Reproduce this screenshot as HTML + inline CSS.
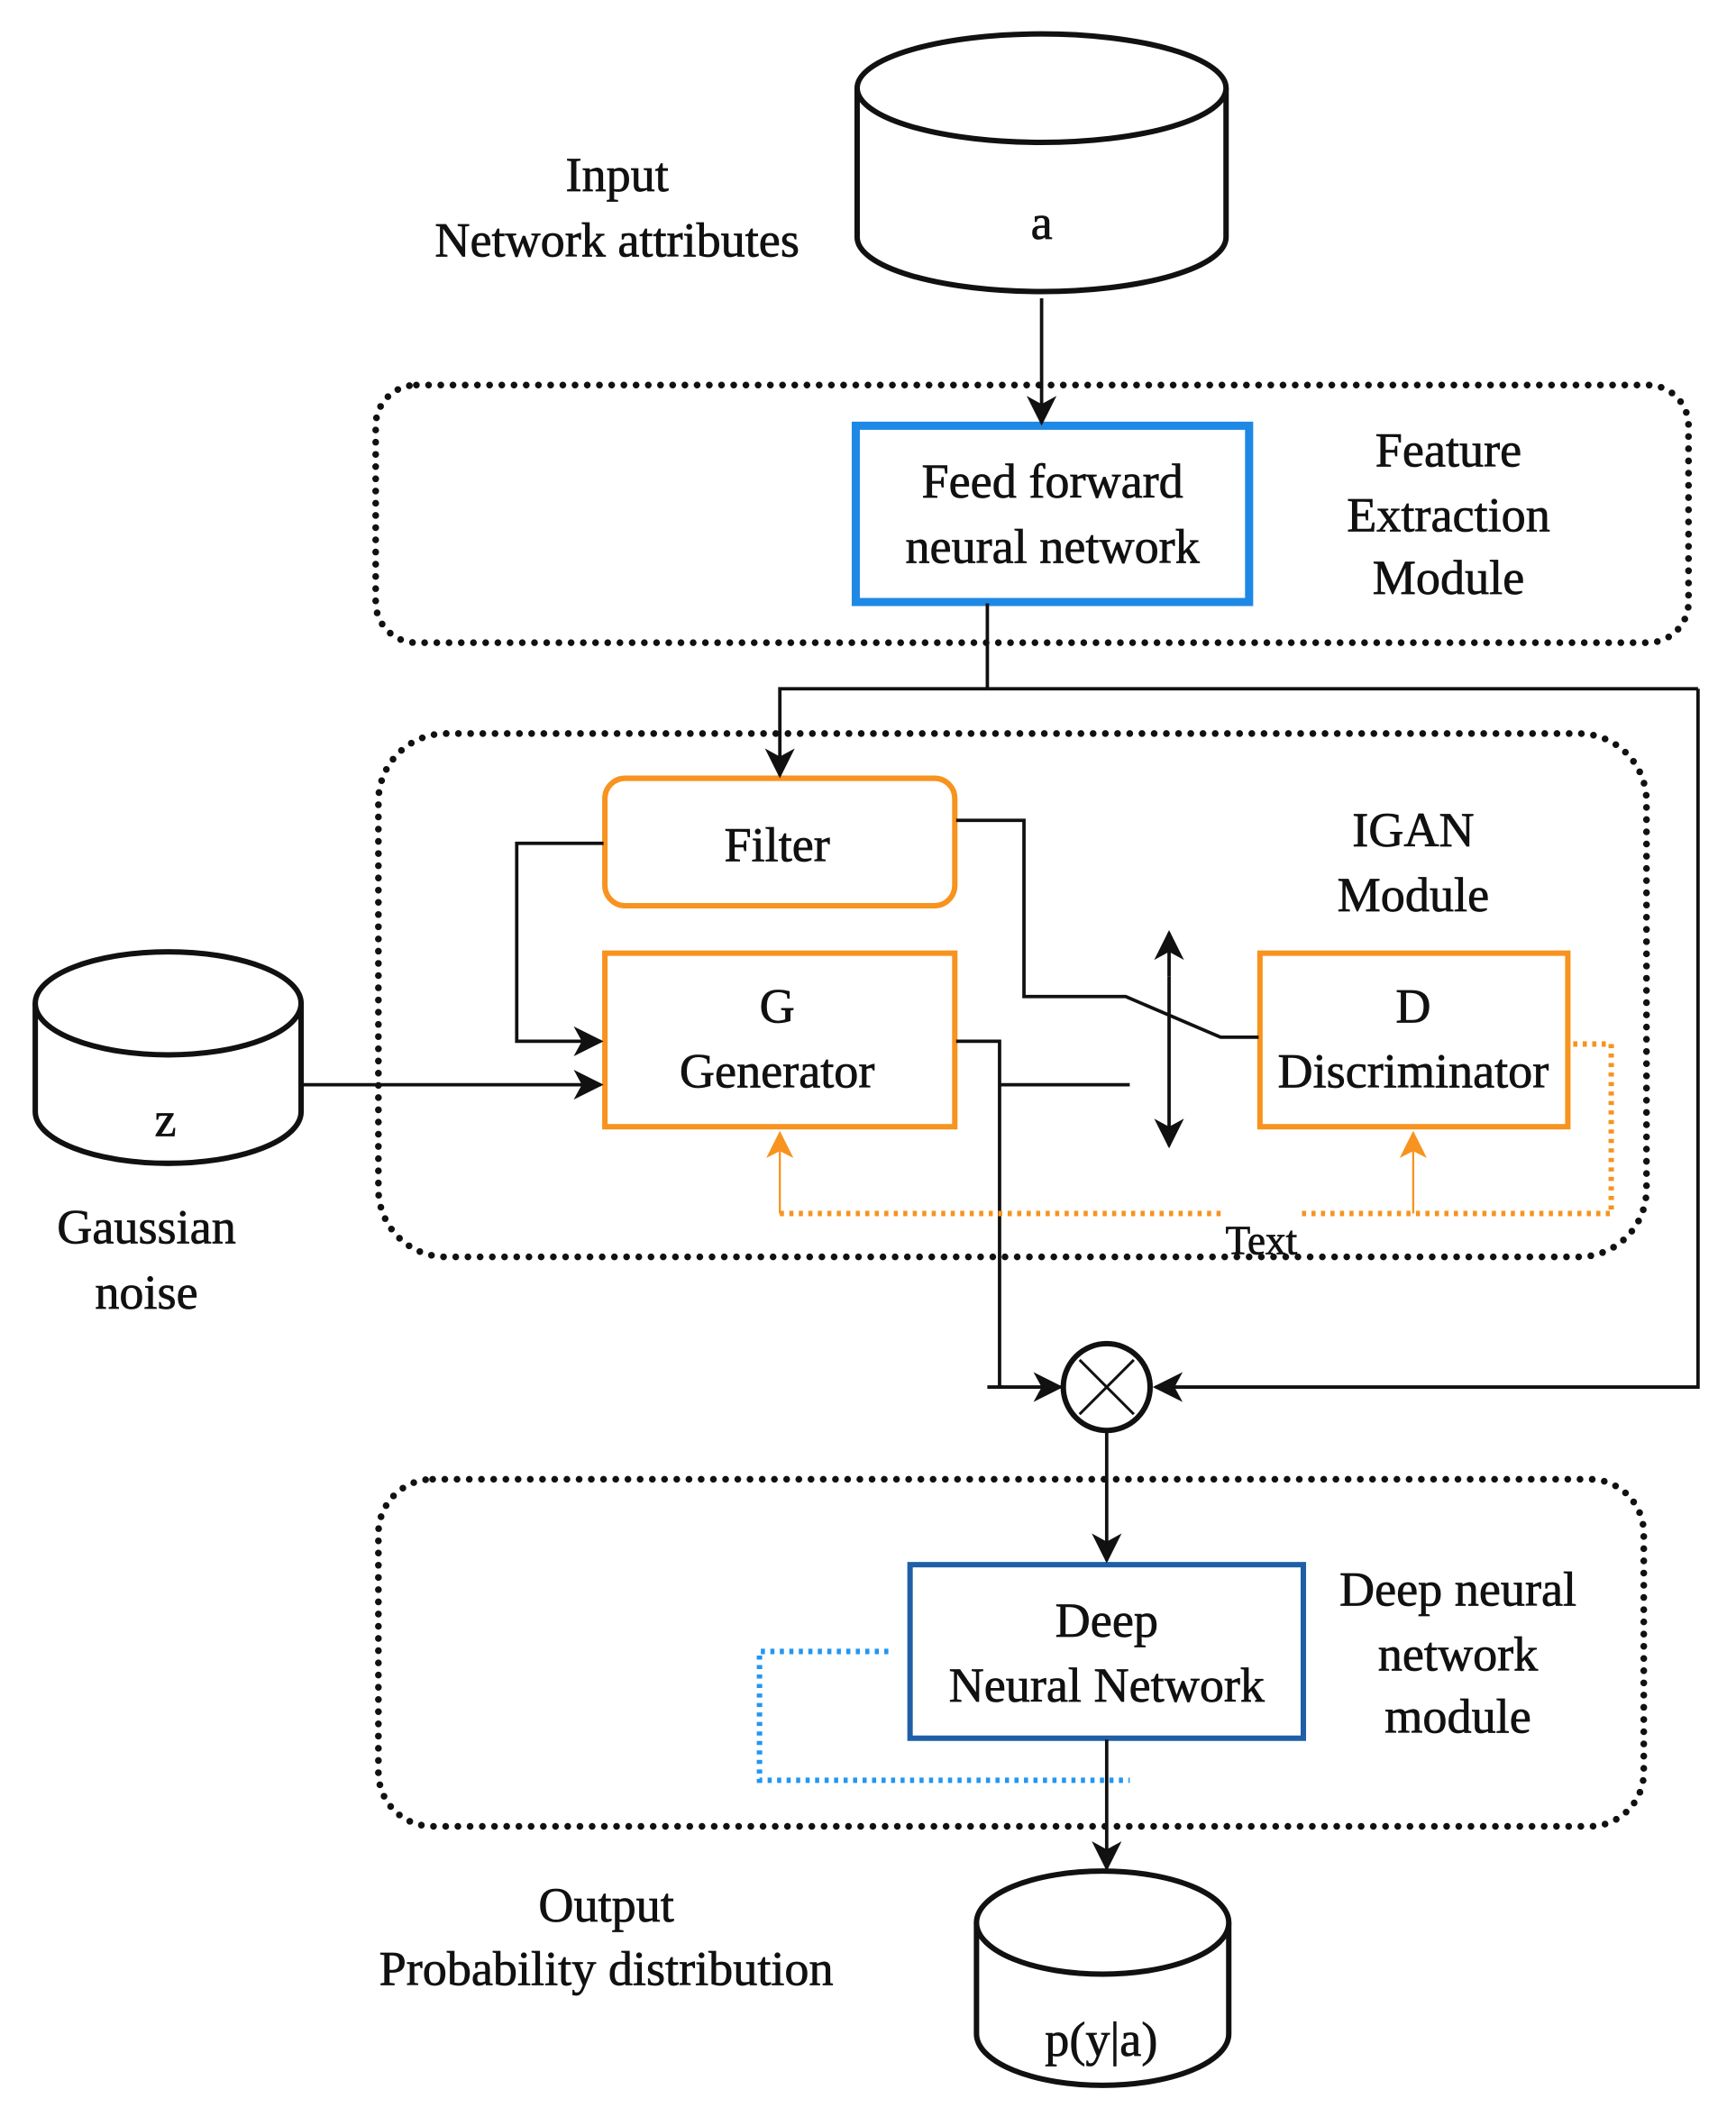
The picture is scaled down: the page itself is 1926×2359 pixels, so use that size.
<!DOCTYPE html>
<html><head><meta charset="utf-8"><style>
html,body{margin:0;padding:0;background:#fff}
svg{display:block}
text{font-family:"Liberation Serif",serif;font-size:36px;fill:#111;text-anchor:middle;stroke:#111;stroke-width:0.5}
</style></head><body>
<svg width="1926" height="2359" viewBox="0 0 1280 1568" preserveAspectRatio="none" xmlns="http://www.w3.org/2000/svg">
<defs>
<marker id="ahb" markerWidth="22" markerHeight="22" refX="20" refY="11" orient="auto" markerUnits="userSpaceOnUse" viewBox="0 0 22 22"><path d="M0,0 L22,11 L0,22 L6,11 z" fill="#111"/></marker>
<marker id="aho" markerWidth="20" markerHeight="20" refX="18" refY="10" orient="auto" markerUnits="userSpaceOnUse" viewBox="0 0 20 20"><path d="M0,0 L20,10 L0,20 L5,10 z" fill="#f7931e"/></marker>
</defs>
<g fill="none" stroke="#111" stroke-width="4">
<path d="M632,65 L632,175 A136,40 0 0 0 904,175 L904,65" fill="#fff"/>
<ellipse cx="768" cy="65" rx="136" ry="40" fill="#fff"/>
<path d="M26,740 L26,820 A98,38 0 0 0 222,820 L222,740" fill="#fff"/>
<ellipse cx="124" cy="740" rx="98" ry="38" fill="#fff"/>
<path d="M720,1418 L720,1500 A93,38 0 0 0 906,1500 L906,1418" fill="#fff"/>
<ellipse cx="813" cy="1418" rx="93" ry="38" fill="#fff"/>
</g>
<g fill="none" stroke="#111" stroke-width="5" stroke-dasharray="0 9" stroke-linecap="round">
<rect x="277" y="284" width="968" height="190" rx="30"/>
<rect x="279" y="541" width="935" height="386" rx="50"/>
<rect x="279" y="1091" width="933" height="256" rx="40"/>
</g>
<rect x="631" y="314" width="290" height="130" fill="#fff" stroke="#1e88e5" stroke-width="6"/>
<rect x="446" y="574" width="258" height="94" rx="15" fill="#fff" stroke="#f7931e" stroke-width="4"/>
<rect x="446" y="703" width="258" height="128" fill="#fff" stroke="#f7931e" stroke-width="4"/>
<rect x="929" y="703" width="227" height="128" fill="#fff" stroke="#f7931e" stroke-width="4"/>
<rect x="671" y="1154" width="290" height="128" fill="#fff" stroke="#1e5fa8" stroke-width="4"/>
<g fill="none" stroke="#111" stroke-width="2.5">
<line x1="768" y1="220" x2="768" y2="312" marker-end="url(#ahb)"/>
<polyline points="728,445 728,508"/>
<polyline points="1252,508 575,508 575,572" marker-end="url(#ahb)"/>
<polyline points="1252,508 1252,1023 852,1023" marker-end="url(#ahb)"/>
<polyline points="445,622 381,622 381,768 443,768" marker-end="url(#ahb)"/>
<line x1="222" y1="800" x2="443" y2="800" marker-end="url(#ahb)"/>
<polyline points="705,605 755,605 755,735 830,735 900,765 928,765"/>
<polyline points="705,768 737,768 737,1023 782,1023" marker-end="url(#ahb)"/>
<line x1="728" y1="1023" x2="740" y2="1023"/>
<line x1="737" y1="800" x2="833" y2="800"/>
<line x1="862" y1="720" x2="862" y2="688" marker-end="url(#ahb)"/>
<line x1="862" y1="720" x2="862" y2="845" marker-end="url(#ahb)"/>
<line x1="816" y1="1056" x2="816" y2="1151" marker-end="url(#ahb)"/>
<line x1="816" y1="1283" x2="816" y2="1378" marker-end="url(#ahb)"/>
</g>
<circle cx="816" cy="1023" r="32" fill="#fff" stroke="#111" stroke-width="4"/>
<line x1="796" y1="1003" x2="836" y2="1043" stroke="#111" stroke-width="2"/>
<line x1="836" y1="1003" x2="796" y2="1043" stroke="#111" stroke-width="2"/>
<g fill="none" stroke="#f7931e" stroke-width="4" stroke-dasharray="3 4">
<polyline points="575,895 900,895"/>
<polyline points="960,895 1188,895 1188,770 1157,770"/>
</g>
<line x1="575" y1="895" x2="575" y2="836" stroke="#f7931e" stroke-width="1.5" marker-end="url(#aho)"/>
<line x1="1042" y1="895" x2="1042" y2="836" stroke="#f7931e" stroke-width="1.5" marker-end="url(#aho)"/>
<polyline points="655,1218 560,1218 560,1313 833,1313" fill="none" stroke="#2196f3" stroke-width="4" stroke-dasharray="3 4"/>
<text x="455" y="141">Input</text>
<text x="455" y="189">Network attributes</text>
<text x="768" y="176">a</text>
<text x="776" y="367">Feed forward</text>
<text x="776" y="415">neural network</text>
<text x="1068" y="344">Feature</text>
<text x="1068" y="392">Extraction</text>
<text x="1068" y="438">Module</text>
<text x="573" y="635">Filter</text>
<text x="1042" y="624">IGAN</text>
<text x="1042" y="672">Module</text>
<text x="573" y="754">G</text>
<text x="573" y="802">Generator</text>
<text x="1042" y="754">D</text>
<text x="1042" y="802">Discriminator</text>
<text x="122" y="838">z</text>
<text x="108" y="917">Gaussian</text>
<text x="108" y="965">noise</text>
<text x="930" y="925" style="font-size:30px">Text</text>
<text x="816" y="1207">Deep</text>
<text x="816" y="1255">Neural Network</text>
<text x="1075" y="1184">Deep neural</text>
<text x="1075" y="1232">network</text>
<text x="1075" y="1278">module</text>
<text x="447" y="1417">Output</text>
<text x="447" y="1464">Probability distribution</text>
<text x="812" y="1516">p(y|a)</text>
</svg>
</body></html>
